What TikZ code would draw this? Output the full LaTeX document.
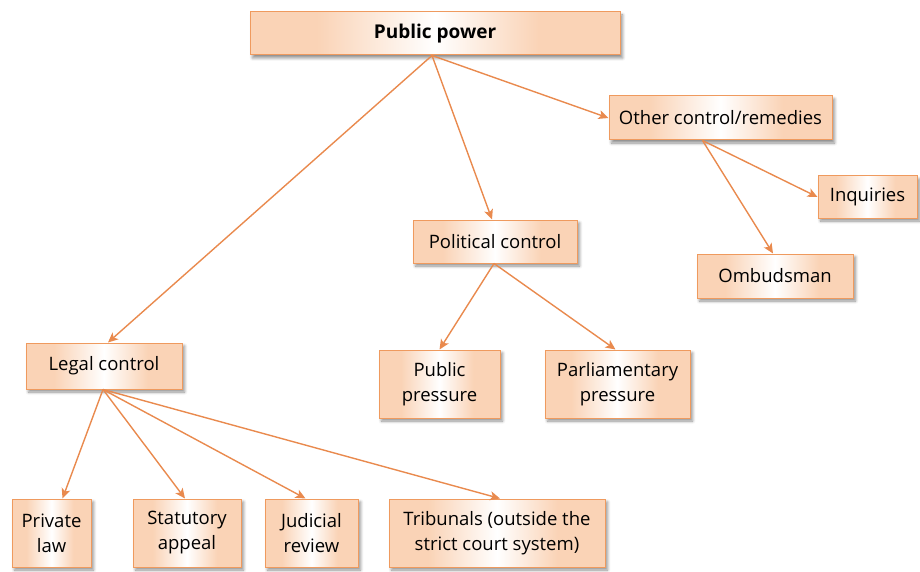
\documentclass[tikz,border=0pt]{standalone}
\usepackage{fontspec}
\setmainfont{Open Sans}
\usetikzlibrary{shadows.blur,arrows.meta}
\definecolor{peach}{HTML}{FAD3B6}
\definecolor{boxline}{HTML}{EF9A5E}
\definecolor{arrowc}{HTML}{E98A4E}
\pgfdeclarehorizontalshading{boxshade}{100bp}{color(0bp)=(peach); color(25bp)=(peach); color(34bp)=(peach); color(50bp)=(white); color(64bp)=(peach); color(75bp)=(peach); color(100bp)=(peach)}
\tikzset{
  box/.style={draw=boxline, line width=1pt, shading=boxshade, align=center,
    font=\fontsize{18.5}{25}\selectfont, inner sep=0pt,
    blur shadow={shadow xshift=2.5pt, shadow yshift=-3pt, shadow opacity=45, shadow blur steps=6, shadow blur radius=3pt}},
  link/.style={draw=arrowc, line width=1.4pt, -{Stealth[length=10pt,width=9pt,inset=2.5pt]}}
}
\begin{document}
\begin{tikzpicture}[x=1pt,y=-1pt]
\useasboundingbox (0,0) rectangle (920,572);
% top level
\node[box, minimum width=370pt, minimum height=43pt, font=\fontsize{19}{25}\selectfont\bfseries] (pp) at (435,33.5) {Public power};
% second level
\node[box, minimum width=223pt, minimum height=44pt] (oc) at (720.5,118) {Other control/remedies};
\node[box, minimum width=164pt, minimum height=43pt] (pc) at (495,241.5) {Political control};
\node[box, minimum width=156pt, minimum height=46pt] (lc) at (104,366) {Legal control};
% other remedies
\node[box, minimum width=99pt, minimum height=42pt] (inq) at (867.5,197) {Inquiries};
\node[box, minimum width=156pt, minimum height=44pt] (omb) at (775,276) {Ombudsman};
% political control
\node[box, minimum width=121pt, minimum height=68pt] (pub) at (439.5,384) {Public\\pressure};
\node[box, minimum width=145pt, minimum height=68pt] (parl) at (617.5,384) {Parliamentary\\pressure};
% legal control
\node[box, minimum width=79pt, minimum height=68pt] (priv) at (51.5,533) {Private\\law};
\node[box, minimum width=108pt, minimum height=68pt] (stat) at (187,533) {Statutory\\appeal};
\node[box, minimum width=93pt, minimum height=68pt] (jud) at (311.5,533) {Judicial\\review};
\node[box, minimum width=216pt, minimum height=68pt] (trib) at (497,533) {Tribunals (outside the\\strict court system)};
% connectors
\draw[link] ([xshift=-3pt]pp.south) -- ([xshift=4pt]lc.north);
\draw[link] ([xshift=-3pt]pp.south) -- ([xshift=-3pt]pc.north);
\draw[link] ([xshift=-3pt]pp.south) -- (oc.west);
\draw[link] ([xshift=-18pt]oc.south) -- (inq.west);
\draw[link] ([xshift=-18pt]oc.south) -- ([xshift=-2pt]omb.north);
\draw[link] ([xshift=-1pt]pc.south) -- (pub.north);
\draw[link] ([xshift=-1pt]pc.south) -- ([xshift=-2pt]parl.north);
\draw[link] ([xshift=-1pt]lc.south) -- ([xshift=11pt]priv.north);
\draw[link] ([xshift=-1pt]lc.south) -- ([xshift=-2pt]stat.north);
\draw[link] ([xshift=-1pt]lc.south) -- ([xshift=-6pt]jud.north);
\draw[link] ([xshift=-1pt]lc.south) -- ([xshift=3pt]trib.north);
\end{tikzpicture}
\end{document}
